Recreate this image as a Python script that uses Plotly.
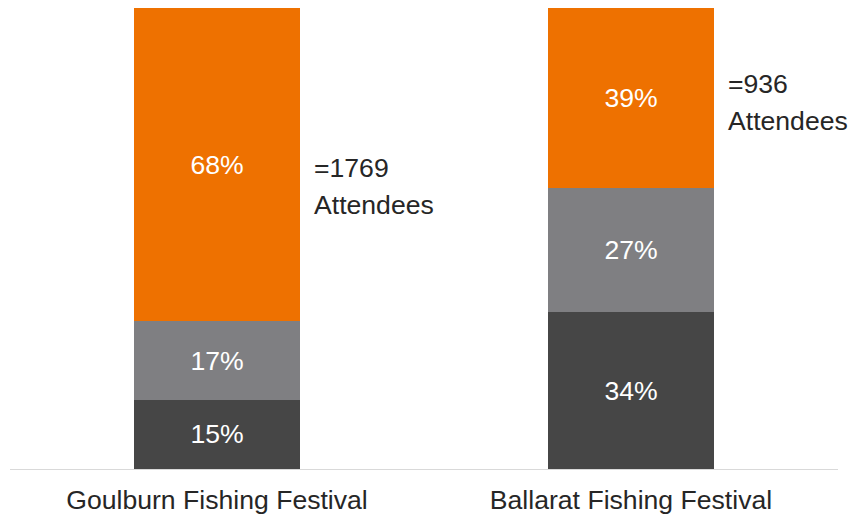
import plotly.graph_objects as go

categories = ["Goulburn Fishing Festival", "Ballarat Fishing Festival"]
series_names = ["Bottom", "Middle", "Top"]
bottom_pct = [15, 34]
middle_pct = [17, 27]
top_pct = [68, 39]
attendees = [1769, 936]

colors = ["#464646", "#7f7f82", "#ee7100"]
FONT = "Liberation Sans, Arial, sans-serif"
FS = 26.6

fig = go.Figure()
for name, vals, col in zip(series_names, [bottom_pct, middle_pct, top_pct], colors):
    fig.add_trace(go.Bar(
        x=categories, y=vals, name=name, marker=dict(color=col, line=dict(width=0)),
        text=[f"{v}%" for v in vals], textposition="inside", insidetextanchor="middle",
        textfont=dict(color="white", size=FS, family=FONT), textangle=0,
    ))

ann_y = [61.3, 79.4]
for i, (cat, n) in enumerate(zip(categories, attendees)):
    for line, shift in ((f"={n}", 18.5), ("Attendees", -18.5)):
        fig.add_annotation(
            x=i + 0.2, y=ann_y[i], xref="x", yref="y", text=line,
            showarrow=False, xanchor="left", yanchor="middle", align="left",
            xshift=12, yshift=shift,
            font=dict(size=FS, color="#262626", family=FONT),
        )

fig.update_layout(
    barmode="stack", bargap=0.6, showlegend=False,
    width=848, height=518, margin=dict(l=10, r=10, t=8, b=49, autoexpand=False),
    paper_bgcolor="white", plot_bgcolor="white",
    uniformtext=dict(mode=False),
    font=dict(family=FONT, color="#262626"),
)
fig.update_xaxes(range=[-0.5, 1.5], autorange=False, showline=True, linecolor="#d9d9d9",
                 linewidth=1, ticks="", ticklabelstandoff=7, automargin=False,
                 tickfont=dict(size=FS, color="#262626", family=FONT), showgrid=False)
fig.update_yaxes(range=[0, 100], visible=False, showgrid=False)

fig.write_html("out.html")
